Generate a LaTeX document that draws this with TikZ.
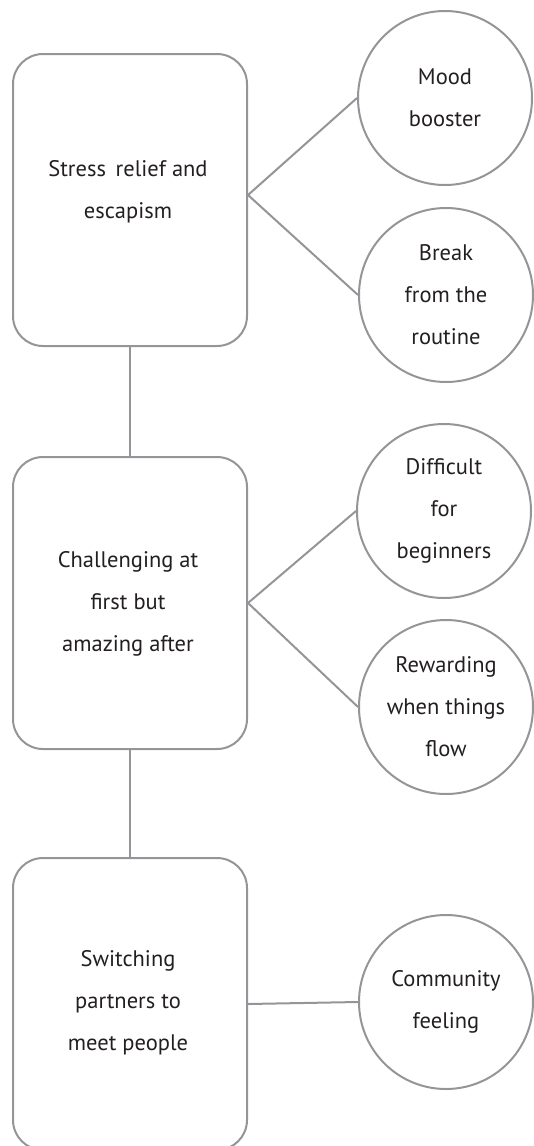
\documentclass[tikz,border=0pt]{standalone}
\usepackage{fontspec}
\setmainfont{PT Sans}
\definecolor{linegray}{HTML}{939598}
\definecolor{txt}{HTML}{231F20}
\begin{document}
\begin{tikzpicture}[x=1pt,y=-1pt,
  every node/.style={text=txt, font={\fontsize{22.5}{42}\selectfont}, align=center, inner sep=0pt},
  bigbox/.style={draw=linegray, line width=2pt, rounded corners=30pt, minimum width=234pt, minimum height=292pt},
  bubble/.style={draw=linegray, line width=2pt, circle, minimum size=174pt},
  link/.style={draw=linegray, line width=2pt}]
\useasboundingbox (0,0) rectangle (534,1146);
\node[bigbox] (b1) at (130,200) {};
\node at (128,192) {Stress\ \,relief and\\escapism};
\node[bigbox] (b2) at (130,603) {};
\node at (128,604) {Challenging at\\first but\\amazing after};
\node[bigbox] (b3) at (130,1004) {};
\node at (128,1003) {Switching\\partners to\\meet people};
\node[bubble] (c1) at (445,98) {Mood\\booster};
\node[bubble] (c2) at (446,295) {Break\\from the\\routine};
\node[bubble] (c3) at (444,511) {Difficult\\for\\beginners};
\node[bubble] (c4) at (446,707) {Rewarding\\when things\\flow};
\node[bubble] (c5) at (446,1002) {Community\\feeling};
\draw[link] (b1.south) -- (b2.north);
\draw[link] (b2.south) -- (b3.north);
\draw[link] ([yshift=5pt]b1.east) -- (c1.west);
\draw[link] ([yshift=5pt]b1.east) -- (c2.west);
\draw[link] (b2.east) -- (c3.west);
\draw[link] (b2.east) -- (c4.west);
\draw[link] (b3.east) -- (c5.west);
\end{tikzpicture}
\end{document}
